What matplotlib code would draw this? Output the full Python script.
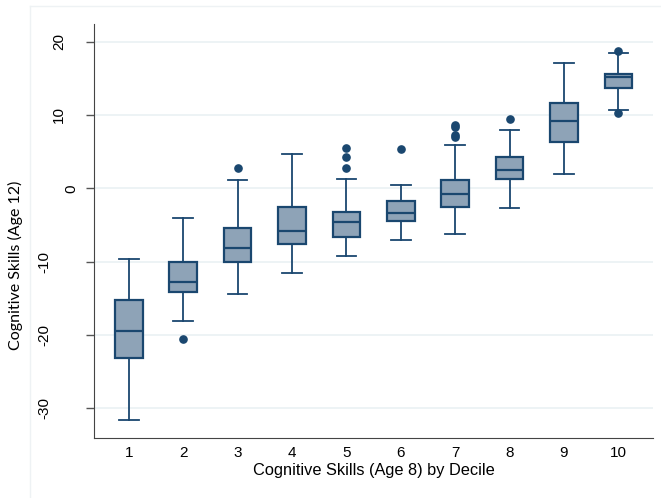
import matplotlib
matplotlib.use("Agg")
import matplotlib.pyplot as plt
from matplotlib.lines import Line2D

plt.rcParams["font.family"] = ["Liberation Sans", "DejaVu Sans"]

# Resumen por decil (edad 8): cuartiles, bigotes y valores atípicos a los 12 años
deciles = [1, 2, 3, 4, 5, 6, 7, 8, 9, 10]
whislo = [-31.6, -18.1, -14.4, -11.5, -9.2, -7.1, -6.3, -2.7, 2.0, 10.7]
q1 = [-23.1, -14.2, -10.0, -7.6, -6.6, -4.4, -2.5, 1.3, 6.3, 13.7]
med = [-19.5, -12.8, -8.1, -5.8, -4.6, -3.4, -0.8, 2.45, 9.1, 15.2]
q3 = [-15.2, -10.1, -5.4, -2.6, -3.3, -1.8, 1.1, 4.3, 11.6, 15.6]
whishi = [-9.6, -4.0, 1.1, 4.7, 1.3, 0.5, 5.9, 7.9, 17.1, 18.5]
fliers = [[], [-20.6], [2.8], [], [2.8, 4.3, 5.5], [5.35],
          [7.0, 7.3, 8.3, 8.6], [9.4], [], [10.2, 18.7]]

yticks = [-30, -20, -10, 0, 10, 20]
ytick_pads = [25, 25, 25, 5, 14, 14]

navy = "#1a476f"
fill = "#8ea3b7"
grid_col = "#eaf1f3"

stats = []
for i in range(len(deciles)):
    stats.append({"whislo": whislo[i], "q1": q1[i], "med": med[i],
                  "q3": q3[i], "whishi": whishi[i], "fliers": fliers[i]})

fig = plt.figure(figsize=(6.61, 4.98), dpi=100)
ax = fig.add_axes([0.1422, 0.121, 0.846, 0.831])

# marco suave alrededor del área del gráfico
fig.add_artist(Line2D([0.046, 0.046], [0, 0.988], transform=fig.transFigure,
                      color="#eef2f4", lw=1))
fig.add_artist(Line2D([0.046, 1.0], [0.988, 0.988], transform=fig.transFigure,
                      color="#eef2f4", lw=1))

for y in yticks:
    ax.axhline(y, color=grid_col, lw=1.2, zorder=0)

ax.bxp(stats, positions=deciles, widths=0.51, capwidths=0.36,
       patch_artist=True,
       boxprops=dict(facecolor=fill, edgecolor=navy, linewidth=1.6),
       medianprops=dict(color=navy, linewidth=1.6),
       whiskerprops=dict(color=navy, linewidth=1.3),
       capprops=dict(color=navy, linewidth=1.3),
       flierprops=dict(marker="o", markerfacecolor=navy, markeredgecolor=navy,
                       markersize=5.2, linestyle="none"))

ax.set_xlim(0.36, 10.64)
ax.set_ylim(-34.0, 22.4)
ax.set_xticks(deciles)
ax.set_xticklabels([str(d) for d in deciles])
ax.set_yticks(yticks)
ax.set_yticklabels([str(v) for v in yticks], rotation=90, va="center")

ax.tick_params(axis="x", length=0, pad=6, labelsize=11)
ax.tick_params(axis="y", length=6, width=1, color="#555555", labelsize=11)
for tick, pad in zip(ax.yaxis.get_major_ticks(), ytick_pads):
    tick.set_pad(pad)

for side in ["top", "right"]:
    ax.spines[side].set_visible(False)
ax.spines["left"].set_color("#444444")
ax.spines["bottom"].set_color("#444444")

ax.set_xlabel("Cognitive Skills (Age 8) by Decile", fontsize=11.8, labelpad=2)
fig.text(0.024, 0.468, "Cognitive Skills (Age 12)", rotation=90,
         ha="center", va="center", fontsize=11.5, family=["Lato", "DejaVu Sans"])

fig.savefig("out.png", dpi=100)
